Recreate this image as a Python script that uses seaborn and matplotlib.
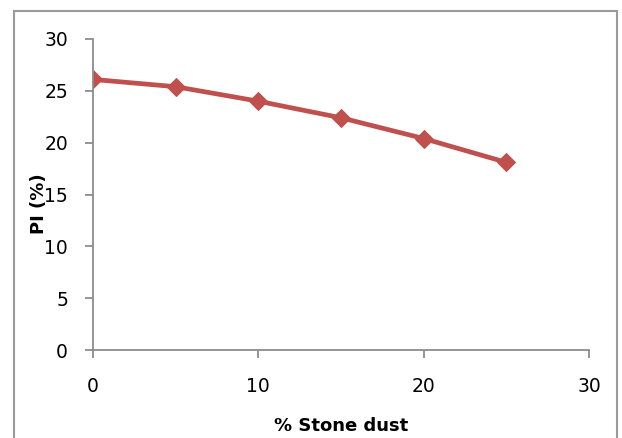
import matplotlib
matplotlib.use("Agg")
import matplotlib.pyplot as plt
import seaborn as sns
import pandas as pd
from matplotlib.patches import Rectangle

stone_dust = [0, 5, 10, 15, 20, 25]
pi_values = [26.1, 25.4, 24.0, 22.4, 20.4, 18.1]
x_ticks = [0, 10, 20, 30]
y_ticks = [0, 5, 10, 15, 20, 25, 30]

sns.set_style("white")
plt.rcParams['font.family'] = ['DejaVu Sans']

df = pd.DataFrame({"x": stone_dust, "y": pi_values})

W, H = 622, 438
fig = plt.figure(figsize=(W / 100, H / 100), dpi=100)
ax = fig.add_axes([93 / W, 1 - 350 / H, (589 - 93) / W, (350 - 39) / H])

sns.lineplot(data=df, x="x", y="y", ax=ax, color="#C0504D", linewidth=3.4,
             marker="D", markersize=9, markeredgecolor="#C0504D")

ax.set_xlim(0, 30)
ax.set_ylim(0, 30)
ax.set_xticks(x_ticks)
ax.set_yticks(y_ticks)

for s in ["top", "right"]:
    ax.spines[s].set_visible(False)
for s in ["left", "bottom"]:
    ax.spines[s].set_color("#8c8c8c")
    ax.spines[s].set_linewidth(1.3)

ax.tick_params(axis="y", direction="out", length=5.5, width=1.3, color="#8c8c8c",
               pad=12.5, labelsize=13.5, labelcolor="#000000", left=True)
ax.tick_params(axis="x", direction="out", length=5.5, width=1.3, color="#8c8c8c",
               pad=14, labelsize=13.5, labelcolor="#000000", bottom=True)

ax.set_xlabel("% Stone dust", fontsize=13, fontweight="bold", labelpad=15, color="#000000")
ax.set_ylabel("PI (%)", fontsize=13, fontweight="bold", color="#000000")
ax.yaxis.set_label_coords(-0.09, 0.47)

fig.patches.append(Rectangle((14 / W, -0.05), (617 - 14) / W, 1 - 11 / H + 0.05,
                             transform=fig.transFigure, fill=False,
                             edgecolor="#9a9a9a", linewidth=1.5))

fig.savefig("out.png", dpi=100)
